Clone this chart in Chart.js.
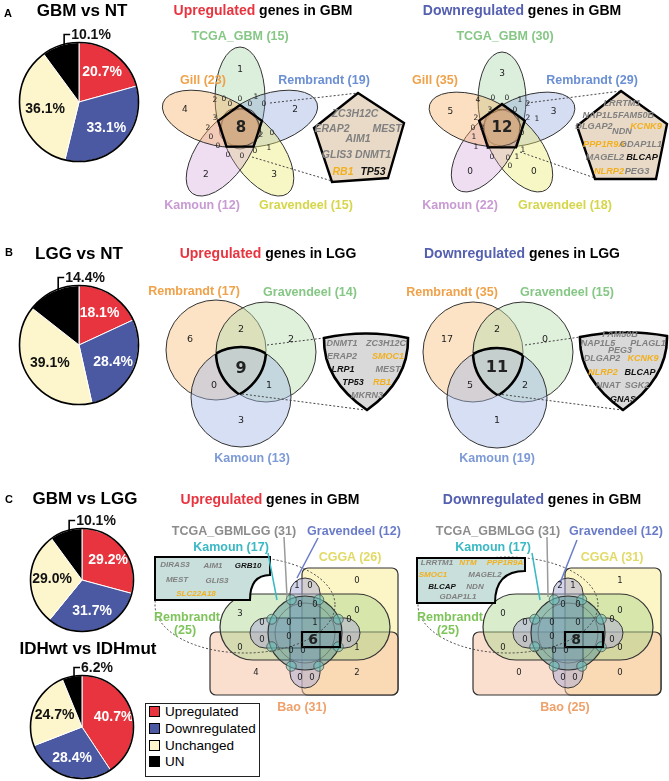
<!DOCTYPE html>
<html>
<head>
<meta charset="utf-8">
<title>Gene overlap figure</title>
<script src="https://cdn.jsdelivr.net/npm/chart.js@4.4.1/dist/chart.umd.min.js"></script>
<style>
  body { margin: 0; background: #fff; }
  #page { position: relative; width: 669px; height: 781px; overflow: hidden; background: #fff;
          font-family: "Liberation Sans", Arial, sans-serif; }
  #page canvas { position: absolute; }
  .t { position: absolute; white-space: nowrap; transform: translate(-50%, -50%); line-height: 1; }
  #legend { position: absolute; left: 145px; top: 703px; width: 113px; height: 72px;
            border: 1.5px solid #222; background: #fff; font-size: 13.5px; }
  #legend div { position: absolute; left: 3px; height: 15px; line-height: 15px; white-space: nowrap; }
  #legend span { display: inline-block; width: 9px; height: 9px; border: 1px solid #000;
                 margin-right: 5px; vertical-align: -1px; }
</style>
</head>
<body>
<div id="page"></div>
<script>
// ---------- data ----------
const pieCategories = ['Upregulated', 'Downregulated', 'Unchanged', 'UN'];
const pieGbmNt  = [20.7, 33.1, 36.1, 10.1];
const pieLggNt  = [18.1, 28.4, 39.1, 14.4];
const pieGbmLgg = [29.2, 31.7, 29.0, 10.1];
const pieIdh    = [40.7, 28.4, 24.7, 6.2];

// panel A: 5 sets (petal order clockwise from top)
const fiveSets      = ['TCGA_GBM', 'Rembrandt', 'Gravendeel', 'Kamoun', 'Gill'];
const fiveUpSizes   = [15, 19, 15, 12, 23];
const fiveDownSizes = [30, 29, 18, 22, 35];
const fiveUpOnly    = [1, 2, 3, 2, 4];
const fiveDownOnly  = [3, 3, 0, 0, 5];
const fiveUpSmall   = [2, 0, 0, 1, 0, 3, 2, 0, 0, 0, 0, 0, 2, 0, 1, 0, 0];
const fiveDownSmall = [4, 0, 0, 1, 2, 3, 0, 2, 0, 3, 1, 2, 1, 0, 1, 1, 1, 0, 0, 1, 0];
const fiveUpCore = 8, fiveDownCore = 12;

// panel B: 3 sets; regions R, R&G, G, core, R&K, G&K, K
const threeSets      = ['Rembrandt', 'Gravendeel', 'Kamoun'];
const threeUpSizes   = [17, 14, 13];
const threeDownSizes = [35, 15, 19];
const threeUpRegions   = [6, 2, 2, 9, 0, 1, 3];
const threeDownRegions = [17, 2, 0, 11, 5, 2, 1];

// panel C: 6 sets
const sixSets      = ['TCGA_GBMLGG', 'Gravendeel', 'Kamoun', 'CGGA', 'Rembrandt', 'Bao'];
const sixUpSizes   = [31, 12, 17, 26, 25, 31];
const sixDownSizes = [31, 12, 17, 31, 25, 25];
const sixUpRegions   = [0, 1, 0, 3, 0, 0, 1, 0, 0, 1, 4, 2, 0, 0, 0, 0, 0, 0, 0, 0, 0, 0];
const sixDownRegions = [1, 2, 1, 0, 0, 0, 0, 0, 0, 0, 0, 0, 0, 0, 0, 0, 0, 0, 0, 0, 0, 0];
const sixUpCore = 6, sixDownCore = 8;

// shared genes
const genesAUp   = ['ZC3H12C', 'ERAP2', 'MEST', 'AIM1', 'GLIS3', 'DNMT1', 'RB1', 'TP53'];
const genesADown = ['LRRTM1', 'NAP1L5', 'FAM50B', 'DLGAP2', 'NDN', 'KCNK9', 'PPP1R9A', 'GDAP1L1',
                    'MAGEL2', 'BLCAP', 'NLRP2', 'PEG3'];
const genesBUp   = ['DNMT1', 'ZC3H12C', 'ERAP2', 'SMOC1', 'LRP1', 'MEST', 'TP53', 'RB1', 'MKRN3'];
const genesBDown = ['FAM50B', 'NAP1L5', 'PLAGL1', 'PEG3', 'DLGAP2', 'KCNK9', 'NLRP2', 'BLCAP',
                    'NNAT', 'SGK2', 'GNAS'];
const genesCUp   = ['DIRAS3', 'AIM1', 'GRB10', 'MEST', 'GLIS3', 'SLC22A18'];
const genesCDown = ['LRRTM1', 'NTM', 'PPP1R9A', 'SMOC1', 'MAGEL2', 'BLCAP', 'NDN', 'GDAP1L1'];
const orangeGenes = ['RB1', 'SMOC1', 'KCNK9', 'PPP1R9A', 'NLRP2', 'SLC22A18', 'NTM'];
const blackGenes  = ['TP53', 'LRP1', 'BLCAP', 'GNAS', 'GRB10'];

// ---------- layout ----------
const pieColors = ['#e8343f', '#4a59a2', '#fdf6cc', '#000000'];
const FONT = '"Liberation Sans", Arial, sans-serif';
const NUMFONT = '"DejaVu Sans", sans-serif';

const flowerUp   = { cx: 240, cy: 128, d: 30, rx: 25, ry: 51, pr: 23 };
const flowerDown = { cx: 502, cy: 128, d: 28, rx: 24, ry: 48, pr: 24 };
const fiveFill = ['rgba(140,200,140,0.30)', 'rgba(120,150,215,0.32)', 'rgba(235,235,110,0.40)',
                  'rgba(205,150,215,0.32)', 'rgba(245,170,90,0.38)'];
const fiveColor = ['#86c786', '#6b8fd3', '#d6d64a', '#c99ad3', '#f0a24a'];
const fiveUpSmallPos = [[215,100],[224,99],[240,99],[256,97],[264,104],[215,118],[208,128],[211,137],
  [218,146],[228,155],[242,156],[255,151],[261,135],[272,133],[269,148],[230,104],[250,104]];
const fiveDownSmallPos = [[478,100],[493,98],[507,98],[520,100],[528,104],[490,110],[515,110],[476,118],
  [473,128],[482,128],[474,137],[528,118],[537,119],[522,133],[523,150],[476,147],[488,147],[492,157],
  [508,158],[517,157],[510,166]];
const calloutAUp   = [[358,93],[404,123],[388,178],[332,182],[314,128]];
const calloutADown = [[621,91],[667,124],[656,179],[595,179],[577,126]];
const dotsAUp   = [[[270,103],[358,93]], [[252,157],[332,181]]];
const dotsADown = [[[527,103],[621,91]], [[520,152],[595,178]]];
const genesAUpPos = [[355,113],[332,128],[387,128],[358,138],[337,154],[373,154],[343,171],[373,171]];
const genesADownPos = [[622,104],[600,116],[636,116],[594,127],[622,132],[646,127],[604,145],[641,145],
  [605,158],[642,158],[609,172],[637,172]];

const threeUpCircles   = [[216,350,50],[266,352,50],[241,397,50]];
const threeDownCircles = [[473,352,50],[523,352,50],[497,398,50]];
const threeFill  = ['rgba(250,200,140,0.50)', 'rgba(185,222,175,0.45)', 'rgba(165,185,228,0.45)'];
const threeColor = ['#f0a24a', '#86c786', '#7d9ad6'];
const threeUpPos   = [[190,340],[241,330],[291,340],[241,369],[214,386],[269,386],[241,421]];
const threeDownPos = [[447,340],[497,330],[545,340],[497,368],[470,386],[525,386],[497,421]];
const shieldUp   = { tl: [324,338], tr: [408,338], p: [367,410] };
const shieldDown = { tl: [580,337], tr: [667,336], p: [623,410] };
const dotsBUp   = [[[267,345],[324,338]], [[242,394],[365,410]]];
const dotsBDown = [[[525,345],[580,337]], [[498,394],[622,410]]];
const genesBUpPos = [[342,343],[386,343],[342,356],[388,356],[343,369],[388,369],[353,382],[382,382],[367,395]];
const genesBDownPos = [[620,334],[598,343],[648,343],[620,350],[602,358],[643,358],[603,372],[640,372],
  [608,385],[637,385],[623,399]];

const sixShiftDown = 263;
const sixPos = [[357,581],[297,586],[310,586],[240,614],[357,611],[289,623],[315,623],[289,637],
  [240,648],[357,648],[256,673],[357,673],[300,678],[312,678],[300,605],[315,605],[262,623],[262,640],
  [349,620],[349,640],[291,651],[303,651]];
const sixCorePos = [313, 640];
const calloutCUp   = { l: 155, r: 270, t: 557, b: 600, nx: 250, ny: 575 };
const calloutCDown = { l: 417, r: 525, t: 558, b: 603, nx: 495, ny: 571 };
const sixLinesUp = [['#3ab8c4', [268,553], [277,600]], ['#9a9a9a', [284,537], [287,597]], ['#6a7cc8', [318,538], [297,578]]];
const sixLinesDown = [['#3ab8c4', [532,553], [540,600]], ['#9a9a9a', [547,537], [548,597]], ['#6a7cc8', [577,540], [560,583]]];
const genesCUpPos = [[175,565],[213,566],[248,566],[177,580],[217,581],[196,594]];
const genesCDownPos = [[437,563],[468,563],[505,563],[433,575],[485,575],[442,587],[475,587],[458,597]];

// ---------- html text ----------
const page = document.getElementById('page');

function label(x, y, text, size, color, extra) {
  const d = document.createElement('div');
  d.className = 't';
  d.style.left = x + 'px';
  d.style.top = y + 'px';
  d.style.fontSize = size + 'px';
  d.style.fontWeight = 'bold';
  d.style.color = color;
  if (extra) Object.assign(d.style, extra);
  d.textContent = text;
  page.appendChild(d);
  return d;
}
function title(x, y, word, wordColor, rest) {
  const d = label(x, y, '', 14, '#000');
  const s = document.createElement('span');
  s.style.color = wordColor;
  s.textContent = word;
  d.appendChild(s);
  d.appendChild(document.createTextNode(' ' + rest));
}
function geneLabels(list, pos, size) {
  list.forEach((g, i) => {
    const col = orangeGenes.includes(g) ? '#f2b01e' : blackGenes.includes(g) ? '#111' : '#808080';
    label(pos[i][0], pos[i][1], g, size, col, { fontStyle: 'italic' });
  });
}

// ---------- pies ----------
const pieLabels = {
  id: 'pieLabels',
  afterDatasetsDraw(chart) {
    const ctx = chart.ctx;
    const meta = chart.getDatasetMeta(0);
    const vals = chart.data.datasets[0].data;
    let cx, cy, R;
    ctx.save();
    ctx.font = 'bold 14px ' + FONT;
    ctx.textBaseline = 'middle';
    meta.data.forEach((arc, i) => {
      const p = arc.getProps(['x', 'y', 'startAngle', 'endAngle', 'outerRadius'], true);
      cx = p.x; cy = p.y; R = p.outerRadius;
      const mid = (p.startAngle + p.endAngle) / 2;
      const txt = vals[i].toFixed(1) + '%';
      if (i < 3) {
        const f = i === 2 ? 0.58 : 0.64;
        ctx.textAlign = 'center';
        ctx.fillStyle = i === 2 ? '#111' : '#fff';
        ctx.fillText(txt, cx + Math.cos(mid) * R * f, cy + Math.sin(mid) * R * f);
      } else {
        // UN slice: label outside with a small bracket
        const bx = cx + Math.cos(mid) * R * 0.8;
        const edge = cy - Math.sqrt(R * R - (bx - cx) * (bx - cx));
        const top = cy - R - 8;
        ctx.strokeStyle = '#000';
        ctx.lineWidth = 1.6;
        ctx.beginPath();
        ctx.moveTo(bx, edge + 3);
        ctx.lineTo(bx, top);
        ctx.lineTo(bx + 6, top);
        ctx.stroke();
        ctx.textAlign = 'left';
        ctx.fillStyle = '#111';
        ctx.fillText(txt, bx + 7, top + 1);
      }
    });
    ctx.beginPath();
    ctx.arc(cx, cy, R, 0, Math.PI * 2);
    ctx.lineWidth = 1.6;
    ctx.strokeStyle = '#000';
    ctx.stroke();
    ctx.restore();
  }
};

function makePie(values, cx, cy, r) {
  const pad = 3, top = 22, right = 40;
  const w = 2 * r + 2 * pad + right, h = 2 * r + pad + top;
  const c = document.createElement('canvas');
  c.width = w; c.height = h;
  c.style.width = w + 'px'; c.style.height = h + 'px';
  c.style.left = (cx - r - pad) + 'px';
  c.style.top = (cy - r - top) + 'px';
  page.appendChild(c);
  new Chart(c, {
    type: 'pie',
    data: {
      labels: pieCategories,
      datasets: [{ data: values, backgroundColor: pieColors, borderColor: '#ffffff', borderWidth: 1 }]
    },
    options: {
      responsive: false,
      animation: false,
      events: [],
      layout: { padding: { left: pad, right: pad + right, top: top, bottom: pad } },
      plugins: { legend: { display: false }, tooltip: { enabled: false } }
    },
    plugins: [pieLabels]
  });
}

makePie(pieGbmNt, 78.5, 102, 60);
makePie(pieLggNt, 78.5, 345, 60);
makePie(pieGbmLgg, 82, 580, 52);
makePie(pieIdh, 82, 727, 52);

// ---------- venn overlay ----------
const vennShapes = {
  id: 'vennShapes',
  beforeDatasetsDraw(chart) {
    const ctx = chart.ctx, sx = chart.scales.x, sy = chart.scales.y;
    const X = v => sx.getPixelForValue(v);
    const Y = v => sy.getPixelForValue(v);
    const L = d => X(d) - X(0);

    function dotted(pairs, col) {
      ctx.save();
      ctx.setLineDash([2, 2]);
      ctx.lineWidth = 1;
      ctx.strokeStyle = col || '#444';
      pairs.forEach(pr => {
        ctx.beginPath();
        ctx.moveTo(X(pr[0][0]), Y(pr[0][1]));
        ctx.lineTo(X(pr[1][0]), Y(pr[1][1]));
        ctx.stroke();
      });
      ctx.restore();
    }
    function poly(pts, fill, lw) {
      ctx.beginPath();
      pts.forEach((p, i) => i ? ctx.lineTo(X(p[0]), Y(p[1])) : ctx.moveTo(X(p[0]), Y(p[1])));
      ctx.closePath();
      ctx.fillStyle = fill; ctx.fill();
      ctx.lineWidth = lw; ctx.strokeStyle = '#000'; ctx.stroke();
    }

    // A: five ellipses
    function drawFlower(f, callout, dots) {
      fiveSets.forEach((s, k) => {
        const th = k * 72 * Math.PI / 180;
        const ex = f.cx + f.d * Math.sin(th), ey = f.cy - f.d * Math.cos(th);
        ctx.beginPath();
        ctx.ellipse(X(ex), Y(ey), L(f.rx), L(f.ry), th, 0, Math.PI * 2);
        ctx.fillStyle = fiveFill[k]; ctx.fill();
        ctx.lineWidth = 1; ctx.strokeStyle = '#333'; ctx.stroke();
      });
      const pent = [0, 1, 2, 3, 4].map(k => {
        const th = k * 72 * Math.PI / 180;
        return [f.cx + f.pr * Math.sin(th), f.cy - f.pr * Math.cos(th)];
      });
      poly(pent, 'rgba(185,140,100,0.30)', 2.4);
      dotted(dots);
      poly(callout, '#e9dac8', 2.4);
    }

    // B: three circles
    function drawThree(circles, sh, dots) {
      circles.forEach((c, i) => {
        ctx.beginPath();
        ctx.arc(X(c[0]), Y(c[1]), L(c[2]), 0, Math.PI * 2);
        ctx.fillStyle = threeFill[i]; ctx.fill();
        ctx.lineWidth = 1; ctx.strokeStyle = '#333'; ctx.stroke();
      });
      circles.forEach((c, i) => {
        ctx.save();
        circles.forEach((o, j) => {
          if (j !== i) { ctx.beginPath(); ctx.arc(X(o[0]), Y(o[1]), L(o[2]), 0, Math.PI * 2); ctx.clip(); }
        });
        ctx.beginPath();
        ctx.arc(X(c[0]), Y(c[1]), L(c[2]), 0, Math.PI * 2);
        ctx.lineWidth = 2.6; ctx.strokeStyle = '#000'; ctx.stroke();
        ctx.restore();
      });
      dotted(dots);
      const mx = (sh.tl[0] + sh.tr[0]) / 2;
      ctx.beginPath();
      ctx.moveTo(X(sh.tl[0]), Y(sh.tl[1]));
      ctx.quadraticCurveTo(X(mx), Y(sh.tl[1] - 9), X(sh.tr[0]), Y(sh.tr[1]));
      ctx.quadraticCurveTo(X(sh.tr[0] + 1), Y(sh.tr[1] + 42), X(sh.p[0]), Y(sh.p[1]));
      ctx.quadraticCurveTo(X(sh.tl[0] - 1), Y(sh.tl[1] + 42), X(sh.tl[0]), Y(sh.tl[1]));
      ctx.closePath();
      ctx.fillStyle = '#d9d9d9'; ctx.fill();
      ctx.lineWidth = 2.6; ctx.strokeStyle = '#000'; ctx.stroke();
    }

    // C: six sets (rectangles, capsule, cross, circle, small circles)
    function drawSix(ox, co, lines) {
      const rr = (x0, y0, x1, y1, r, fill) => {
        ctx.beginPath();
        ctx.roundRect(X(x0 + ox), Y(y0), L(x1 - x0), L(y1 - y0), L(r));
        ctx.fillStyle = fill; ctx.fill();
        ctx.lineWidth = 1.2; ctx.strokeStyle = '#333'; ctx.stroke();
      };
      rr(302, 568, 398, 695, 6, 'rgba(250,238,160,0.60)');   // CGGA
      rr(210, 632, 398, 695, 6, 'rgba(247,196,165,0.55)');   // Bao
      rr(220, 594, 390, 660, 33, 'rgba(170,212,140,0.45)');  // Rembrandt
      ctx.beginPath();                                        // Gravendeel
      ctx.roundRect(X(290 + ox), Y(578), L(30), L(110), L(15));
      ctx.roundRect(X(250 + ox), Y(618), L(110), L(30), L(15));
      ctx.fillStyle = 'rgba(170,170,215,0.50)'; ctx.fill();
      ctx.lineWidth = 1; ctx.strokeStyle = '#333'; ctx.stroke();
      ctx.beginPath();                                        // TCGA_GBMLGG
      ctx.arc(X(305 + ox), Y(633), L(37), 0, Math.PI * 2);
      ctx.fillStyle = 'rgba(70,140,150,0.45)'; ctx.fill();
      ctx.lineWidth = 1.2; ctx.stroke();
      ctx.beginPath();
      ctx.arc(X(305 + ox), Y(633), L(30), 0, Math.PI * 2);
      ctx.lineWidth = 0.7; ctx.strokeStyle = 'rgba(60,60,60,0.6)'; ctx.stroke();
      for (let k = 0; k < 8; k++) {                           // Kamoun
        const th = (k * 45 + 22.5) * Math.PI / 180;
        ctx.beginPath();
        ctx.arc(X(305 + ox + 36 * Math.sin(th)), Y(633 - 36 * Math.cos(th)), L(5), 0, Math.PI * 2);
        ctx.fillStyle = 'rgba(110,195,185,0.55)'; ctx.fill();
        ctx.lineWidth = 0.7; ctx.strokeStyle = '#444'; ctx.stroke();
      }
      ctx.beginPath();
      ctx.rect(X(302 + ox), Y(632), L(38), L(15));
      ctx.lineWidth = 2.2; ctx.strokeStyle = '#000'; ctx.stroke();
      ctx.save();
      ctx.setLineDash([2, 2]);
      ctx.lineWidth = 1; ctx.strokeStyle = '#444';
      ctx.beginPath();
      ctx.ellipse(X(245 + ox), Y(605), L(90), L(48), 0, 0, Math.PI * 2);
      ctx.stroke();
      ctx.restore();
      ctx.beginPath();
      ctx.moveTo(X(co.l), Y(co.t));
      ctx.lineTo(X(co.r), Y(co.t));
      ctx.lineTo(X(co.r), Y(co.ny));
      ctx.quadraticCurveTo(X(co.nx), Y(co.ny), X(co.nx), Y(co.b));
      ctx.lineTo(X(co.l), Y(co.b));
      ctx.closePath();
      ctx.fillStyle = '#c9dfdb'; ctx.fill();
      ctx.lineWidth = 2; ctx.strokeStyle = '#000'; ctx.stroke();
      lines.forEach(ln => {
        ctx.beginPath();
        ctx.moveTo(X(ln[1][0]), Y(ln[1][1]));
        ctx.lineTo(X(ln[2][0]), Y(ln[2][1]));
        ctx.lineWidth = 1.5; ctx.strokeStyle = ln[0]; ctx.stroke();
      });
    }

    ctx.save();
    drawFlower(flowerUp, calloutAUp, dotsAUp);
    drawFlower(flowerDown, calloutADown, dotsADown);
    drawThree(threeUpCircles, shieldUp, dotsBUp);
    drawThree(threeDownCircles, shieldDown, dotsBDown);
    drawSix(0, calloutCUp, sixLinesUp);
    drawSix(sixShiftDown, calloutCDown, sixLinesDown);
    ctx.restore();
  }
};

const vennNumbers = {
  id: 'vennNumbers',
  afterDatasetsDraw(chart) {
    const ctx = chart.ctx;
    chart.data.datasets.forEach((ds, di) => {
      const meta = chart.getDatasetMeta(di);
      ctx.save();
      ctx.font = ds.textFont;
      ctx.fillStyle = '#222';
      ctx.textAlign = 'center';
      ctx.textBaseline = 'middle';
      meta.data.forEach((pt, i) => ctx.fillText(String(ds.values[i]), pt.x, pt.y));
      ctx.restore();
    });
  }
};

function numSet(pos, vals, font, dx) {
  return {
    data: pos.map(p => ({ x: p[0] + (dx || 0), y: p[1] })),
    values: vals, textFont: font,
    pointRadius: 0, pointHoverRadius: 0, showLine: false
  };
}
function petalPos(f) {
  return fiveSets.map((s, k) => {
    const th = k * 72 * Math.PI / 180, dist = f.d + 0.55 * f.ry;
    return [f.cx + dist * Math.sin(th), f.cy - dist * Math.cos(th)];
  });
}

const ov = document.createElement('canvas');
ov.width = 669; ov.height = 781;
ov.style.left = '0px'; ov.style.top = '0px';
ov.style.width = '669px'; ov.style.height = '781px';
page.appendChild(ov);

new Chart(ov, {
  type: 'scatter',
  data: {
    datasets: [
      numSet(petalPos(flowerUp), fiveUpOnly, '9px ' + NUMFONT),
      numSet(petalPos(flowerDown), fiveDownOnly, '9px ' + NUMFONT),
      numSet(fiveUpSmallPos, fiveUpSmall, '7.5px ' + NUMFONT),
      numSet(fiveDownSmallPos, fiveDownSmall, '7.5px ' + NUMFONT),
      numSet([[flowerUp.cx + 1, flowerUp.cy]], [fiveUpCore], 'bold 15px ' + NUMFONT),
      numSet([[flowerDown.cx, flowerDown.cy]], [fiveDownCore], 'bold 15px ' + NUMFONT),
      numSet(threeUpPos.filter((p, i) => i !== 3), threeUpRegions.filter((v, i) => i !== 3), '9.5px ' + NUMFONT),
      numSet(threeDownPos.filter((p, i) => i !== 3), threeDownRegions.filter((v, i) => i !== 3), '9.5px ' + NUMFONT),
      numSet([threeUpPos[3]], [threeUpRegions[3]], 'bold 16px ' + NUMFONT),
      numSet([threeDownPos[3]], [threeDownRegions[3]], 'bold 16px ' + NUMFONT),
      numSet(sixPos, sixUpRegions, '8.5px ' + NUMFONT),
      numSet(sixPos, sixDownRegions, '8.5px ' + NUMFONT, sixShiftDown),
      numSet([sixCorePos], [sixUpCore], 'bold 14px ' + NUMFONT),
      numSet([sixCorePos], [sixDownCore], 'bold 14px ' + NUMFONT, sixShiftDown)
    ]
  },
  options: {
    responsive: false,
    animation: false,
    events: [],
    layout: { padding: 0 },
    scales: {
      x: { type: 'linear', min: 0, max: 669, display: false },
      y: { type: 'linear', min: 0, max: 781, reverse: true, display: false }
    },
    plugins: { legend: { display: false }, tooltip: { enabled: false } }
  },
  plugins: [vennShapes, vennNumbers]
});

// ---------- text ----------
label(8, 13, 'A', 11, '#000');
label(9, 252, 'B', 11, '#000');
label(9, 499, 'C', 11, '#000');
label(82, 10, 'GBM vs NT', 17, '#000');
label(79, 253, 'LGG vs NT', 17, '#000');
label(85, 498, 'GBM vs LGG', 17, '#000');
label(88, 648, 'IDHwt vs IDHmut', 17, '#000');

title(263, 10, 'Upregulated', '#e8343f', 'genes in GBM');
title(522, 10, 'Downregulated', '#5560b0', 'genes in GBM');
title(268, 253, 'Upregulated', '#e8343f', 'genes in LGG');
title(522, 253, 'Downregulated', '#5560b0', 'genes in LGG');
title(270, 499, 'Upregulated', '#e8343f', 'genes in GBM');
title(542, 499, 'Downregulated', '#5560b0', 'genes in GBM');

const fiveUpLabelPos   = [[240,36],[324,80],[306,205],[202,205],[203,80]];
const fiveDownLabelPos = [[505,36],[592,80],[565,205],[460,205],[435,80]];
fiveSets.forEach((s, k) => {
  label(fiveUpLabelPos[k][0], fiveUpLabelPos[k][1], s + ' (' + fiveUpSizes[k] + ')', 12.5, fiveColor[k]);
  label(fiveDownLabelPos[k][0], fiveDownLabelPos[k][1], s + ' (' + fiveDownSizes[k] + ')', 12.5, fiveColor[k]);
});

const threeUpLabelPos   = [[194,291],[310,292],[252,458]];
const threeDownLabelPos = [[452,292],[567,292],[497,458]];
threeSets.forEach((s, k) => {
  label(threeUpLabelPos[k][0], threeUpLabelPos[k][1], s + ' (' + threeUpSizes[k] + ')', 12.5, threeColor[k]);
  label(threeDownLabelPos[k][0], threeDownLabelPos[k][1], s + ' (' + threeDownSizes[k] + ')', 12.5, threeColor[k]);
});

const sixColor = ['#8c8c8c', '#6a7cc8', '#3ab8c4', '#e2da66', '#7fc45a', '#f0a06a'];
const sixUpLabelPos   = [[234,531],[354,531],[231,547],[350,557],[187,617],[302,707]];
const sixDownLabelPos = [[498,531],[616,531],[493,547],[612,557],[450,617],[565,707]];
sixSets.forEach((s, k) => {
  [[sixUpLabelPos, sixUpSizes], [sixDownLabelPos, sixDownSizes]].forEach(([pos, sizes]) => {
    if (s === 'Rembrandt') {
      label(pos[k][0], pos[k][1], s, 12.5, sixColor[k]);
      label(pos[k][0] - 2, pos[k][1] + 13, '(' + sizes[k] + ')', 12.5, sixColor[k]);
    } else {
      label(pos[k][0], pos[k][1], s + ' (' + sizes[k] + ')', 12.5, sixColor[k]);
    }
  });
});

geneLabels(genesAUp, genesAUpPos, 10.5);
geneLabels(genesADown, genesADownPos, 9.2);
geneLabels(genesBUp, genesBUpPos, 9);
geneLabels(genesBDown, genesBDownPos, 9);
geneLabels(genesCUp, genesCUpPos, 8);
geneLabels(genesCDown, genesCDownPos, 8);

// legend
const lg = document.createElement('div');
lg.id = 'legend';
pieCategories.forEach((name, i) => {
  const row = document.createElement('div');
  row.style.top = [0, 17, 34, 50][i] + 'px';
  const sw = document.createElement('span');
  sw.style.background = pieColors[i];
  row.appendChild(sw);
  row.appendChild(document.createTextNode(name));
  lg.appendChild(row);
});
page.appendChild(lg);
</script>
</body>
</html>
